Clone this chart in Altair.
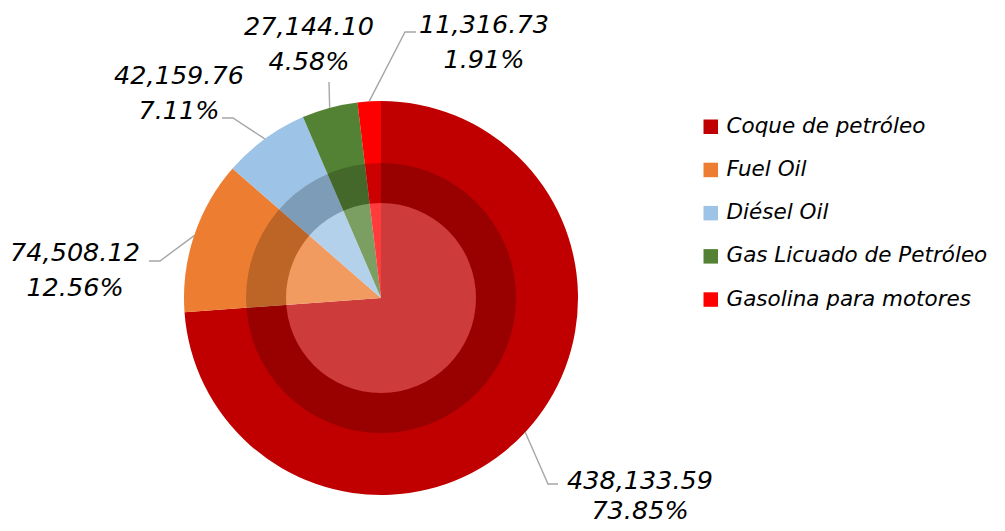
import math
import altair as alt
import pandas as pd

# ---- data ----
categories = ["Coque de petróleo", "Fuel Oil", "Diésel Oil",
              "Gas Licuado de Petróleo", "Gasolina para motores"]
values = [438133.59, 74508.12, 42159.76, 27144.10, 11316.73]
percents = ["73.85%", "12.56%", "7.11%", "4.58%", "1.91%"]
colors = ["#C00000", "#ED7D31", "#9DC3E6", "#548235", "#FF0000"]

# ---- layout (chart pixel coordinates; page origin is offset by 8px) ----
W, H = 989, 519
OFF = 8
CX, CY = 381 - OFF, 298 - OFF
R_OUT = 197
R_RING_OUT, R_RING_IN = 135, 95
# label centre x / baseline y of first line (page coordinates)
label_pos = [(640, 489), (75, 261), (179, 84), (309, 35), (484, 33)]
label_gap = [30, 35, 35, 35, 35]
# leader elbow and end points (page coordinates)
leader_elbow = [(548, 484), (160, 261), (233, 118), (329, 82), (405, 32)]
leader_end = [(558, 484), (149, 261), (222, 118), (329, 82), (416, 32)]

total = sum(values)
df = pd.DataFrame({"cat": categories, "value": values, "idx": range(len(values))})

# leader lines: start at the mid-angle of each slice on the outer edge
rows = []
cum = 0.0
for i, (c, v) in enumerate(zip(categories, values)):
    mid = (cum + v / 2) / total * 2 * math.pi
    cum += v
    sx = CX + R_OUT * math.sin(mid)
    sy = CY - R_OUT * math.cos(mid)
    pts = [(sx, sy), (leader_elbow[i][0] - OFF, leader_elbow[i][1] - OFF),
           (leader_end[i][0] - OFF, leader_end[i][1] - OFF)]
    for k, (px, py) in enumerate(pts):
        rows.append({"cat": c, "step": k, "px": px, "py": py})
leaders = pd.DataFrame(rows)

labels = pd.DataFrame({
    "cat": categories,
    "vlabel": [f"{v:,.2f}" for v in values],
    "plabel": percents,
    "tx": [p[0] - OFF for p in label_pos],
    "ty": [p[1] - OFF for p in label_pos],
})
labels["ty2"] = labels["ty"] + pd.Series(label_gap)

xs = alt.Scale(domain=[0, W], range=[0, W])
ys = alt.Scale(domain=[0, H], range=[0, H])

color_scale = alt.Scale(domain=categories, range=colors)

pie = alt.Chart(df).mark_arc(radius=R_OUT, stroke=None).encode(
    theta=alt.Theta("value:Q", stack=True),
    color=alt.Color("cat:N", scale=color_scale, sort=categories,
                    legend=alt.Legend(
                        title=None, orient="none", legendX=692, legendY=108,
                        symbolType="square", symbolSize=210, symbolStrokeWidth=0,
                        labelFontSize=21.5, labelFont="DejaVu Sans",
                        labelFontStyle="italic", labelColor="#000000",
                        labelOffset=5, rowPadding=20.2, labelLimit=400)),
    order=alt.Order("idx:Q"),
    x=alt.value(CX), y=alt.value(CY),
)

one = pd.DataFrame({"k": [0]})
ring = alt.Chart(one).mark_arc(
    radius=R_RING_OUT, radius2=R_RING_IN, theta=0, theta2=2 * math.pi,
    color="#000000", opacity=0.2
).encode(x=alt.value(CX), y=alt.value(CY))

disc = alt.Chart(one).mark_arc(
    radius=R_RING_IN, theta=0, theta2=2 * math.pi,
    color="#FFFFFF", opacity=0.23
).encode(x=alt.value(CX), y=alt.value(CY))

lines = alt.Chart(leaders).mark_line(color="#A6A6A6", strokeWidth=1.4).encode(
    x=alt.X("px:Q", scale=xs, axis=None),
    y=alt.Y("py:Q", scale=ys, axis=None),
    detail="cat:N",
    order="step:Q",
)

text_style = dict(font="DejaVu Sans", fontSize=25.5, fontStyle="italic",
                  color="#000000", align="center", baseline="alphabetic")

t1 = alt.Chart(labels).mark_text(**text_style).encode(
    x=alt.X("tx:Q", scale=xs, axis=None),
    y=alt.Y("ty:Q", scale=ys, axis=None),
    text="vlabel:N",
)
t2 = alt.Chart(labels).mark_text(**text_style).encode(
    x=alt.X("tx:Q", scale=xs, axis=None),
    y=alt.Y("ty2:Q", scale=ys, axis=None),
    text="plabel:N",
)

chart = alt.layer(pie, ring, disc, lines, t1, t2).properties(
    width=W, height=H, padding=0, autosize=alt.AutoSizeParams(type="none")
).configure_view(stroke=None).resolve_scale(x="shared", y="shared")

chart.save("out.html", embed_options={"renderer": "svg", "actions": False})
